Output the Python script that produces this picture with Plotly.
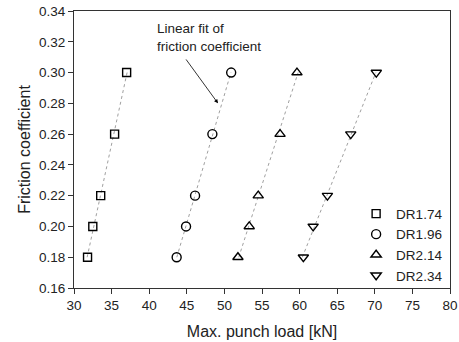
import numpy as np
import plotly.graph_objects as go

friction = [0.18, 0.20, 0.22, 0.26, 0.30]
series_names = ["DR1.74", "DR1.96", "DR2.14", "DR2.34"]
load_dr174 = [31.8, 32.5, 33.55, 35.4, 37.0]
load_dr196 = [43.65, 44.9, 46.1, 48.4, 50.9]
load_dr214 = [51.8, 53.3, 54.5, 57.4, 59.65]
load_dr234 = [60.5, 61.8, 63.7, 66.8, 70.2]
symbols = ["square-open", "circle-open", "triangle-up-open", "triangle-down-open"]
marker_sizes = [8, 9, 9, 9]

x_ticks = [30, 35, 40, 45, 50, 55, 60, 65, 70, 75, 80]
y_ticks = [0.16, 0.18, 0.20, 0.22, 0.24, 0.26, 0.28, 0.30, 0.32, 0.34]

fig = go.Figure()
all_loads = [load_dr174, load_dr196, load_dr214, load_dr234]

# linear fits
for loads in all_loads:
    k, b = np.polyfit(friction, loads, 1)
    yy = [friction[0], friction[-1]]
    xx = [k * v + b for v in yy]
    fig.add_trace(go.Scatter(x=xx, y=yy, mode="lines", showlegend=False,
                             line=dict(color="#a0a0a0", width=1, dash="dot"),
                             hoverinfo="skip"))

for name, loads, sym, ms in zip(series_names, all_loads, symbols, marker_sizes):
    fig.add_trace(go.Scatter(x=loads, y=friction, mode="markers", name=name,
                             marker=dict(symbol=sym, size=ms, color="black",
                                         line=dict(width=1.4, color="black"))))

fig.add_annotation(x=49.15, y=0.280, ax=44.76, ay=0.3095, xref="x", yref="y",
                   axref="x", ayref="y", text="", showarrow=True,
                   arrowhead=2, arrowsize=1, arrowwidth=0.8, arrowcolor="black")
fig.add_annotation(x=40.8, y=0.323, xref="x", yref="y", xanchor="left",
                   yanchor="middle", align="left", showarrow=False,
                   text="Linear fit of<br>friction coefficient",
                   font=dict(size=13.5, color="#222"))

axis_common = dict(showline=True, linecolor="#333", linewidth=1.2, mirror=True,
                   ticks="outside", ticklen=5, tickcolor="#333", showgrid=False,
                   zeroline=False, automargin=False,
                   tickfont=dict(size=13.5, color="#222"))
fig.update_xaxes(range=[30, 80], tickvals=x_ticks,
                 title=dict(text="Max. punch load [kN]", font=dict(size=16, color="#222"), standoff=13),
                 **axis_common)
fig.update_yaxes(range=[0.16, 0.34], tickvals=y_ticks, tickformat=".2f",
                 title=dict(text="Friction coefficient", font=dict(size=16, color="#222"), standoff=4),
                 **axis_common)

fig.update_layout(width=459, height=342, margin=dict(l=74, r=9, t=11, b=54),
                  paper_bgcolor="white", plot_bgcolor="white",
                  font=dict(family="Liberation Sans, Arial, sans-serif"),
                  legend=dict(x=0.995, y=-0.012, xanchor="right", yanchor="bottom",
                              bgcolor="rgba(0,0,0,0)", font=dict(size=13.5, color="#222"),
                              itemwidth=30, tracegroupgap=0))

fig.write_html("out.html", config={"displayModeBar": False},
               post_script="document.body.style.margin='0';document.body.style.overflow='hidden';")
